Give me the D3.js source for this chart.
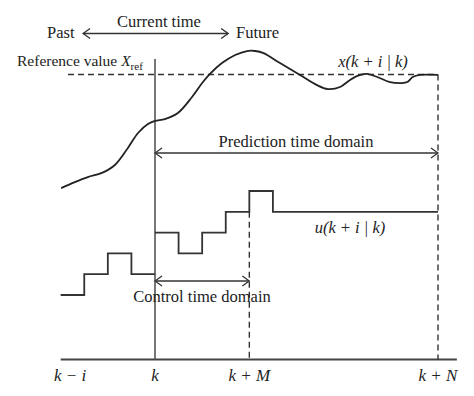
<!DOCTYPE html>
<html>
<head>
<meta charset="utf-8">
<script src="https://cdn.jsdelivr.net/npm/d3@7"></script>
<style>
  html, body { margin: 0; padding: 0; background: #fff; }
  text { font-family: "Liberation Serif", "DejaVu Serif", serif; fill: #222; }
  .it { font-style: italic; }
</style>
</head>
<body>
<div id="chart"></div>
<script>
// DATA
// time is in sampling steps relative to k, values in arbitrary units
var pastU = [3, 4, 5, 4, 4];            // u at k-4 ... k
var pastT = [-4, -3, -2, -1, 0];
var futureU = [6, 5, 6, 7, 8, 7, 7];    // u(k+i|k)
var futureT = [0, 1, 2, 3, 4, 5, 12];
var stateT = [-3.98, -3.4, -2.85, -2.25, -1.7, -1.15, -0.72, -0.3, 0, 0.42, 0.97, 1.57, 2.0, 2.33, 2.84, 3.4, 3.9,
              4.25, 4.6, 5.3, 6.15, 6.85, 7.33, 7.85, 8.27, 8.7, 9.0, 9.42, 9.96, 10.47, 10.7, 10.93, 11.23, 12];
var stateX = [8.14, 8.43, 8.67, 8.87, 9.25, 10.07, 10.79, 11.22, 11.37, 11.46, 11.75, 12.52, 13.19, 13.63, 14.15, 14.54, 14.73,
              14.73, 14.63, 14.15, 13.58, 13.1, 12.9, 13.0, 13.34, 13.58, 13.63, 13.48, 13.24, 13.19, 13.24, 13.48, 13.58, 13.58];
var xRef = 13.6;
var M = 4, N = 12;
var tickPos = [-3.6, 0, M, N];
var tickLabels = ["k \u2212 i", "k", "k + M", "k + N"];

var width = 474, height = 396;

var svg = d3.select("#chart").append("svg")
    .attr("width", width)
    .attr("height", height);

// scales: k at x=155, one step ~23.6px
var x = d3.scaleLinear().domain([0, N]).range([155, 438]);
var y = d3.scaleLinear().domain([3, 8]).range([295, 191]);
var yAxis = -0.1, yTop = 14.35;

// arrow head (open chevron)
svg.append("defs").append("marker")
    .attr("id", "arr")
    .attr("viewBox", "-1 -6 9 12")
    .attr("refX", 7).attr("refY", 0)
    .attr("markerWidth", 9).attr("markerHeight", 12)
    .attr("markerUnits", "userSpaceOnUse")
    .attr("orient", "auto-start-reverse")
  .append("path")
    .attr("d", "M0,-5 L7,0 L0,5")
    .attr("fill", "none")
    .attr("stroke", "#333")
    .attr("stroke-width", 1.3);

var dash = "6,4";

// time axis
svg.append("line")
    .attr("x1", x(-4)).attr("x2", x(12.8))
    .attr("y1", y(yAxis)).attr("y2", y(yAxis))
    .attr("stroke", "#444").attr("stroke-width", 2);

// current time line
svg.append("line")
    .attr("x1", x(0)).attr("x2", x(0))
    .attr("y1", y(yTop)).attr("y2", y(yAxis))
    .attr("stroke", "#555").attr("stroke-width", 1.6);

// reference value
svg.append("line")
    .attr("x1", x(-3.69)).attr("x2", x(N))
    .attr("y1", y(xRef)).attr("y2", y(xRef))
    .attr("stroke", "#333").attr("stroke-width", 1.4)
    .attr("stroke-dasharray", dash);

// k+M and k+N dashed markers
svg.append("line")
    .attr("x1", x(M)).attr("x2", x(M))
    .attr("y1", y(futureU[4 - 1])).attr("y2", y(yAxis))
    .attr("stroke", "#333").attr("stroke-width", 1.4)
    .attr("stroke-dasharray", dash);
svg.append("line")
    .attr("x1", x(N)).attr("x2", x(N))
    .attr("y1", y(xRef)).attr("y2", y(yAxis))
    .attr("stroke", "#333").attr("stroke-width", 1.4)
    .attr("stroke-dasharray", dash);

// control input, piecewise constant
var step = d3.line()
    .x(d => x(d[0]))
    .y(d => y(d[1]))
    .curve(d3.curveStepAfter);

svg.append("path")
    .attr("d", step(d3.zip(pastT, pastU)))
    .attr("fill", "none").attr("stroke", "#333").attr("stroke-width", 1.8);
svg.append("path")
    .attr("d", step(d3.zip(futureT, futureU)))
    .attr("fill", "none").attr("stroke", "#333").attr("stroke-width", 1.8);

// predicted state
var smooth = d3.line()
    .x(d => x(d[0]))
    .y(d => y(d[1]))
    .curve(d3.curveCatmullRom.alpha(0.5));

svg.append("path")
    .attr("d", smooth(d3.zip(stateT, stateX)))
    .attr("fill", "none").attr("stroke", "#222").attr("stroke-width", 1.8);

// domain arrows
function arrow(t1, t2, py) {
  svg.append("line")
      .attr("x1", x(t1)).attr("x2", x(t2))
      .attr("y1", py).attr("y2", py)
      .attr("stroke", "#333").attr("stroke-width", 1.3)
      .attr("marker-start", "url(#arr)")
      .attr("marker-end", "url(#arr)");
}
arrow(-3.05, 3.1, 33.5);
arrow(0, N, 153);
arrow(0, M, 281);

// texts
function label(str, px, py, anchor, cls, fs) {
  return svg.append("text")
      .attr("x", px).attr("y", py)
      .attr("text-anchor", anchor || "start")
      .attr("class", cls || null)
      .attr("font-size", fs || 16.5)
      .text(str);
}

label("Current time", 159, 27, "middle");
label("Past", 47, 38);
label("Future", 236, 38);

var ref = label("Reference value ", 17, 66, "start", null, 15.5);
ref.append("tspan").attr("font-style", "italic").text("X");
ref.append("tspan").attr("font-size", 11).attr("dy", 4).text("ref");

label("x(k + i | k)", 373, 67, "middle", "it");
label("Prediction time domain", 296, 147, "middle");
label("u(k + i | k)", 350, 233, "middle", "it");
label("Control time domain", 202, 302, "middle");

svg.selectAll(".tick")
    .data(tickPos)
    .enter().append("text")
    .attr("class", "tick it")
    .attr("x", d => x(d))
    .attr("y", 381)
    .attr("text-anchor", "middle")
    .attr("font-size", 17)
    .text((d, i) => tickLabels[i]);
</script>
</body>
</html>
